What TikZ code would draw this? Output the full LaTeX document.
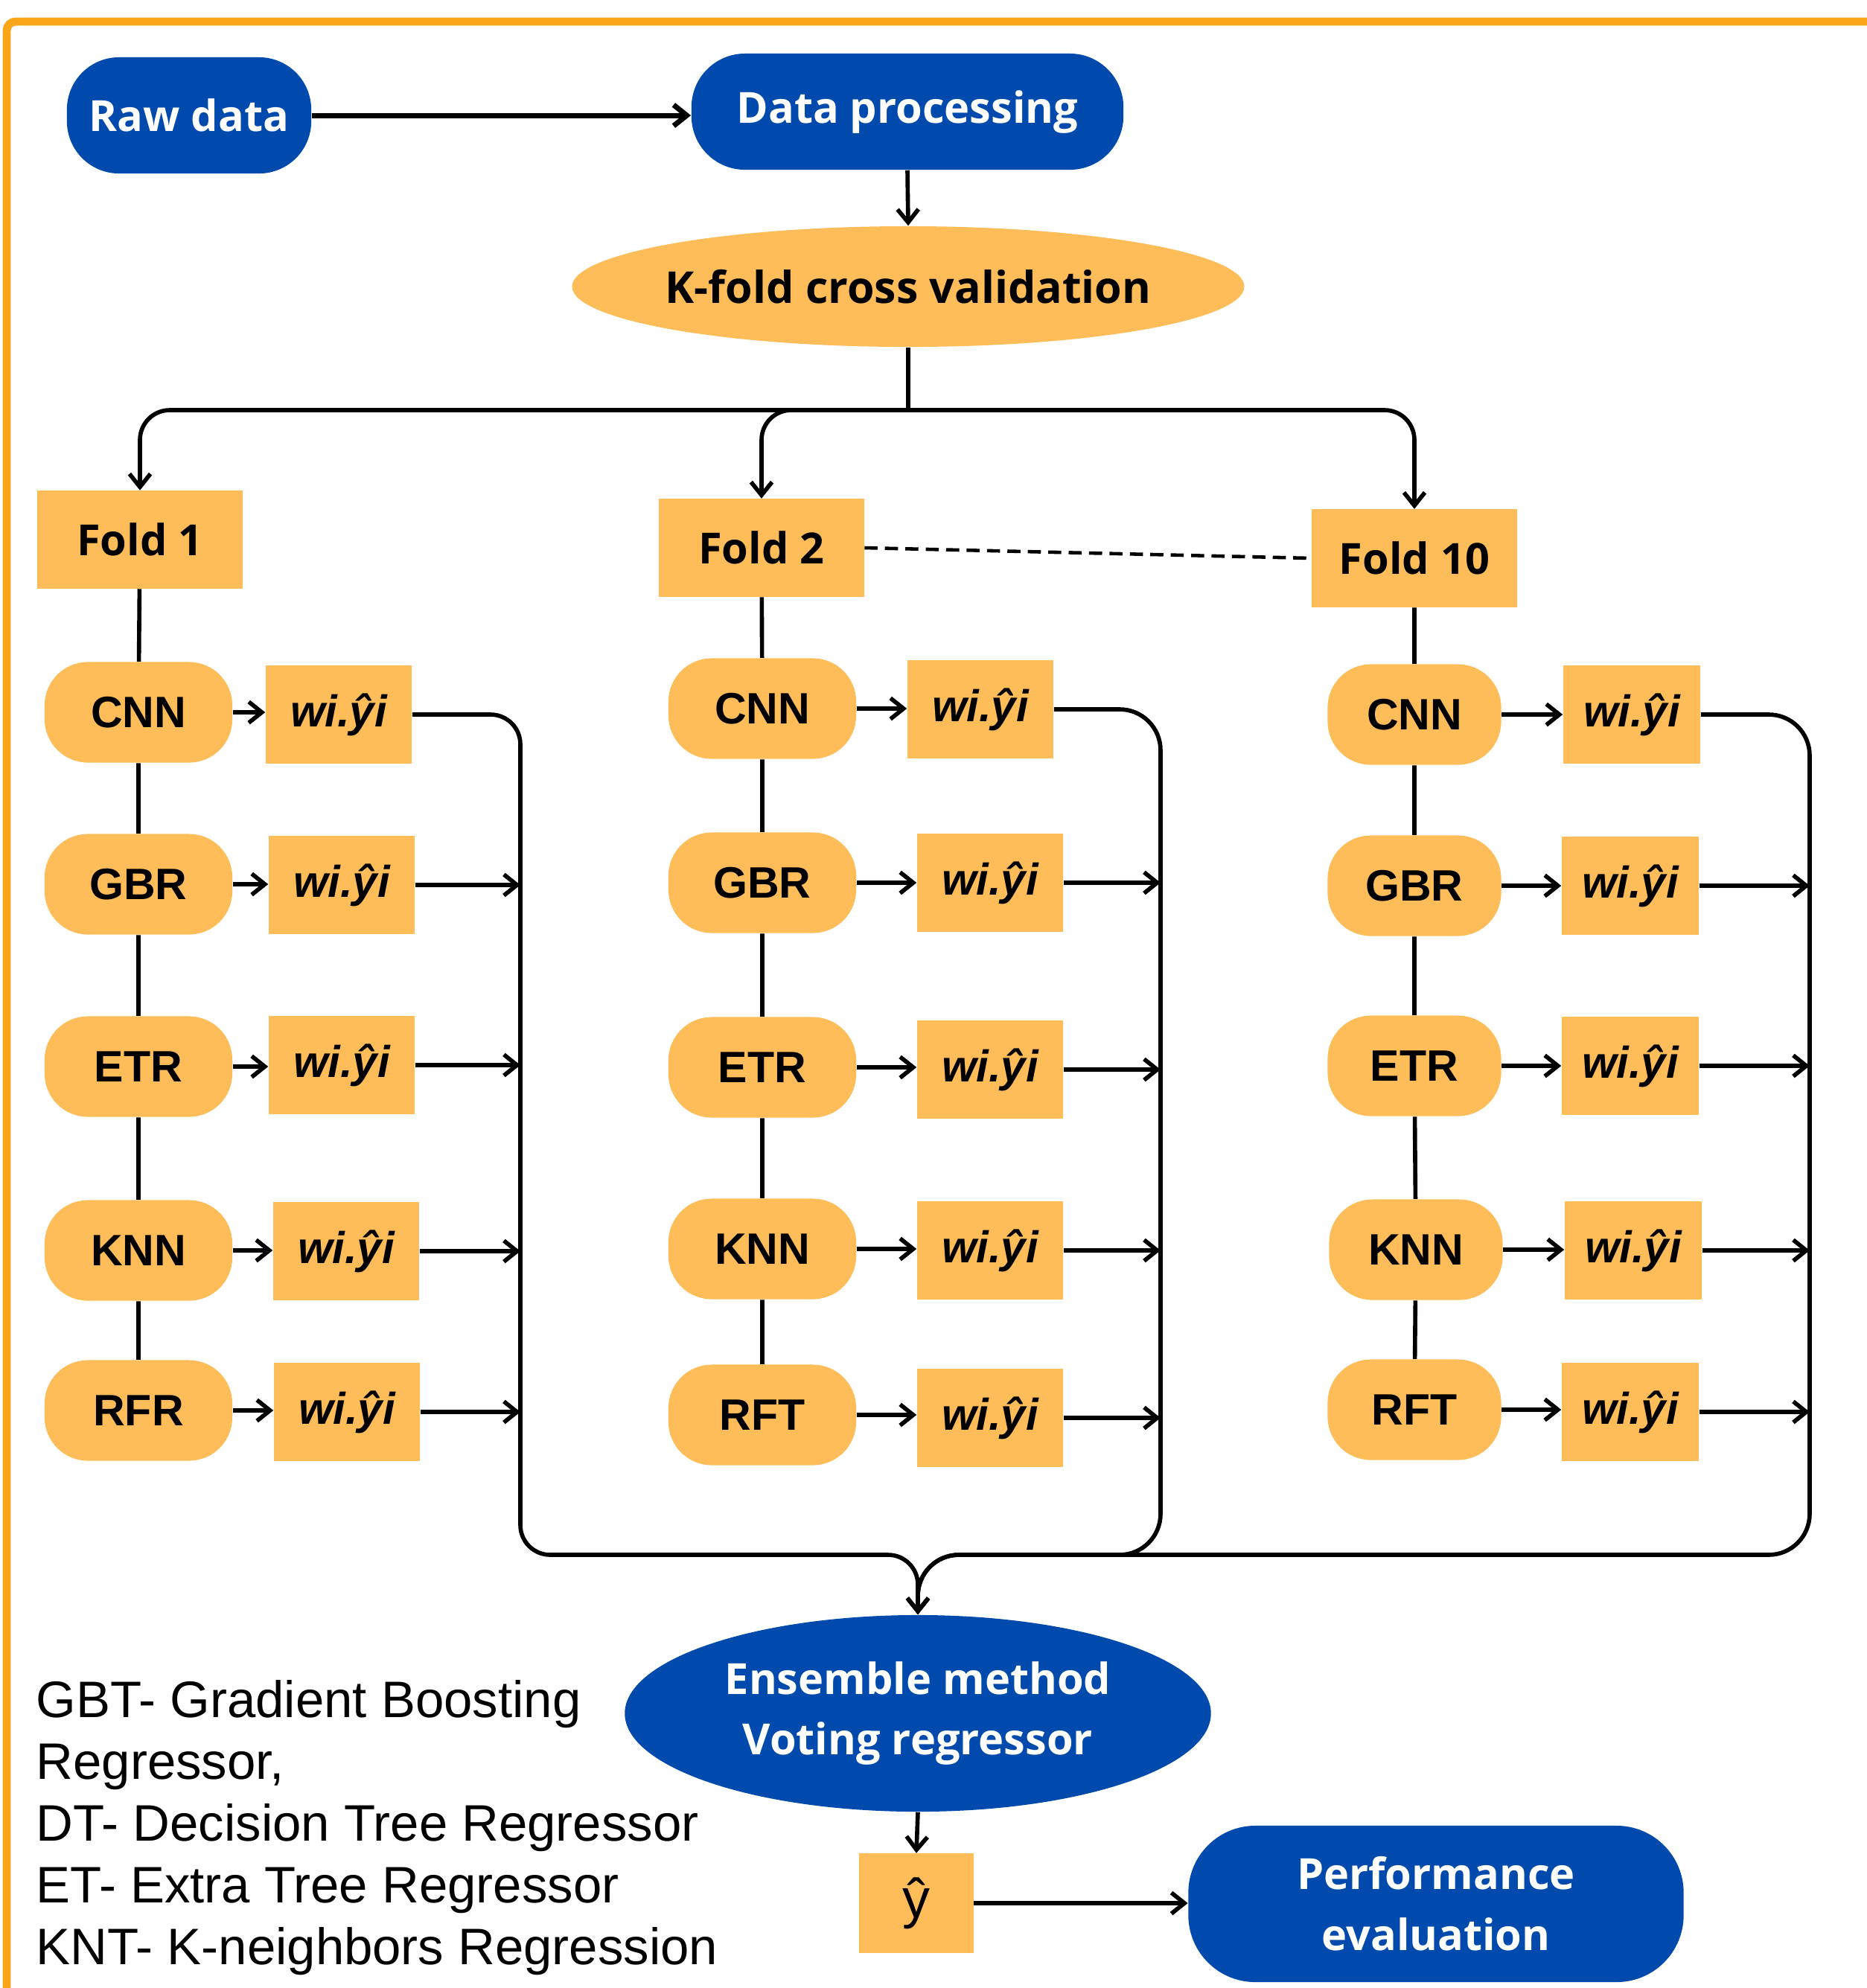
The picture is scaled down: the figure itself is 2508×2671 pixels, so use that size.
\documentclass[tikz,border=0pt]{standalone}
\usepackage{fontspec}
\usetikzlibrary{arrows.meta,shapes.geometric}
\newfontfamily\canvaf{Open Sans}
\newfontfamily\arialf{Liberation Sans}
\definecolor{cblue}{HTML}{004AAD}
\definecolor{corange}{HTML}{FEBD59}
\definecolor{cborder}{HTML}{FBA519}
\tikzset{
  bluebox/.style={fill=cblue, text=white, inner sep=0pt, align=center,
    font=\canvaf\bfseries\fontsize{16.4}{23.3}\selectfont},
  orangebox/.style={fill=corange, text=black, inner sep=0pt},
  foldbox/.style={orangebox, minimum width=2.75cm, minimum height=1.31cm,
    font=\canvaf\bfseries\fontsize{16.4}{20}\selectfont},
  model/.style={orangebox, rounded corners=0.58cm, minimum width=2.52cm, minimum height=1.35cm,
    font=\arialf\bfseries\fontsize{16.8}{20}\selectfont},
  modelc/.style={model, minimum width=2.33cm},
  wbox/.style={orangebox, minimum width=1.96cm, minimum height=1.32cm,
    font=\arialf\bfseries\itshape\fontsize{17}{20}\selectfont},
  wboxc/.style={wbox, minimum width=1.84cm},
  conn/.style={line width=1.6pt, black},
  arr/.style={-{Straight Barb[length=5pt,width=8pt]}},
  dashedline/.style={line width=1.3pt, dash pattern=on 5pt off 2.8pt},
}
\begin{document}
\begin{tikzpicture}[x=0.01cm,y=-0.01cm]
\useasboundingbox (0,0) rectangle (2508,2671);
% border
\draw[cborder, line width=3.1pt, rounded corners=0.12cm] (9,2700) -- (9,29) -- (2540,29);

% top
\node[bluebox, rounded corners=0.7cm, minimum width=3.28cm, minimum height=1.56cm] (raw) at (254,155) {Raw data};
\node[bluebox, rounded corners=0.72cm, minimum width=5.8cm, minimum height=1.56cm] (dp) at (1219,150) {Data processing};
\node[ellipse, fill=corange, inner sep=-2pt, minimum width=9.0cm, minimum height=1.62cm,
  font=\canvaf\bfseries\fontsize{16.8}{20}\selectfont] (kf) at (1220,385) {K-fold cross validation};

% folds
\node[foldbox] (f1) at (188,725) {Fold 1};
\node[foldbox] (f2) at (1023,736) {Fold 2};
\node[foldbox] (f10) at (1900,750) {Fold 10};

% column A
\node[model] (cnnA) at (186,957) {CNN};
\node[model] (gbrA) at (186,1188) {GBR};
\node[model] (etrA) at (186,1433) {ETR};
\node[model] (knnA) at (186,1680) {KNN};
\node[model] (rfA)  at (186,1895) {RFR};
\node[wbox] (wcnnA) at (455,960) {wi.ŷi};
\node[wbox] (wgbrA) at (459,1189) {wi.ŷi};
\node[wbox] (wetrA) at (459,1431) {wi.ŷi};
\node[wbox] (wknnA) at (465,1681) {wi.ŷi};
\node[wbox] (wrfA)  at (466,1897) {wi.ŷi};

% column B
\node[model] (cnnB) at (1024,952) {CNN};
\node[model] (gbrB) at (1024,1186) {GBR};
\node[model] (etrB) at (1024,1434) {ETR};
\node[model] (knnB) at (1024,1678) {KNN};
\node[model] (rfB)  at (1024,1901) {RFT};
\node[wbox] (wcnnB) at (1317,953) {wi.ŷi};
\node[wbox] (wgbrB) at (1330,1186) {wi.ŷi};
\node[wbox] (wetrB) at (1330,1437) {wi.ŷi};
\node[wbox] (wknnB) at (1330,1680) {wi.ŷi};
\node[wbox] (wrfB)  at (1330,1905) {wi.ŷi};

% column C
\node[modelc] (cnnC) at (1900,960) {CNN};
\node[modelc] (gbrC) at (1900,1190) {GBR};
\node[modelc] (etrC) at (1900,1432) {ETR};
\node[modelc] (knnC) at (1902,1679) {KNN};
\node[modelc] (rfC)  at (1900,1894) {RFT};
\node[wboxc] (wcnnC) at (2192,960) {wi.ŷi};
\node[wboxc] (wgbrC) at (2190,1190) {wi.ŷi};
\node[wboxc] (wetrC) at (2190,1432) {wi.ŷi};
\node[wboxc] (wknnC) at (2194,1680) {wi.ŷi};
\node[wboxc] (wrfC)  at (2190,1897) {wi.ŷi};

% bottom
\node[bluebox, ellipse, minimum width=7.87cm, minimum height=2.64cm] (ens) at (1233,2302) {Ensemble method\\Voting regressor};
\node[orangebox, minimum width=1.53cm, minimum height=1.33cm,
  font=\arialf\fontsize{21}{24}\selectfont] (yhat) at (1231,2557) {ŷ};
\node[bluebox, rounded corners=0.9cm, minimum width=6.65cm, minimum height=2.1cm] (perf) at (1929,2558) {Performance\\evaluation};

% legend
\node[anchor=north west, inner sep=0pt, align=left,
  font=\arialf\fontsize{19.6}{23.6}\selectfont] (legend) at (48,2257)
  {GBT- Gradient Boosting\\Regressor,\\DT- Decision Tree Regressor\\ET- Extra Tree Regressor\\KNT- K-neighbors Regression};

% coordinates
\coordinate (split) at (1220,551);
\coordinate (colA) at (699,2089);
\coordinate (colB) at (1559,2089);
\coordinate (colC) at (2431,2089);
\coordinate (join) at (1233,2089);

% connectors top
\draw[conn, arr, line width=2pt] (raw.east) -- (raw.east -| dp.west);
\draw[conn, arr] (dp.south) -- (kf.north);
\draw[conn] (kf.south) -- (split);
\draw[conn, arr, rounded corners=0.4cm] (split) -| (f1.north);
\draw[conn, arr, rounded corners=0.4cm] (split) -| (f2.north);
\draw[conn, arr, rounded corners=0.4cm] (split) -| (f10.north);
\draw[dashedline] (f2.east) -- (f10.west);

% chains
\draw[conn] (f1) -- (cnnA) -- (gbrA) -- (etrA) -- (knnA) -- (rfA);
\draw[conn] (f2) -- (cnnB) -- (gbrB) -- (etrB) -- (knnB) -- (rfB);
\draw[conn] (f10) -- (cnnC) -- (gbrC) -- (etrC) -- (knnC) -- (rfC);

% model -> weight
\foreach \c in {A,B,C}{
  \foreach \m in {cnn,gbr,etr,knn,rf}{
    \draw[conn, arr] (\m\c.east) -- (\m\c.east -| w\m\c.west);
  }
  \foreach \m in {gbr,etr,knn,rf}{
    \draw[conn, arr] (w\m\c.east) -- (w\m\c.east -| col\c);
  }
}

% collectors
\draw[conn, arr, rounded corners=0.4cm] (wcnnA.east) -| (colA) -- (join) -- (ens.north);
\draw[conn, arr, rounded corners=0.55cm] (wcnnB.east) -| (colB) -- (join) -- (ens.north);
\draw[conn, arr, rounded corners=0.55cm] (wcnnC.east) -| (colC) -- (join) -- (ens.north);

% bottom arrows
\draw[conn, arr] (ens.south) -- (yhat.north);
\draw[conn, arr] (yhat.east) -- (yhat.east -| perf.west);
\end{tikzpicture}
\end{document}
